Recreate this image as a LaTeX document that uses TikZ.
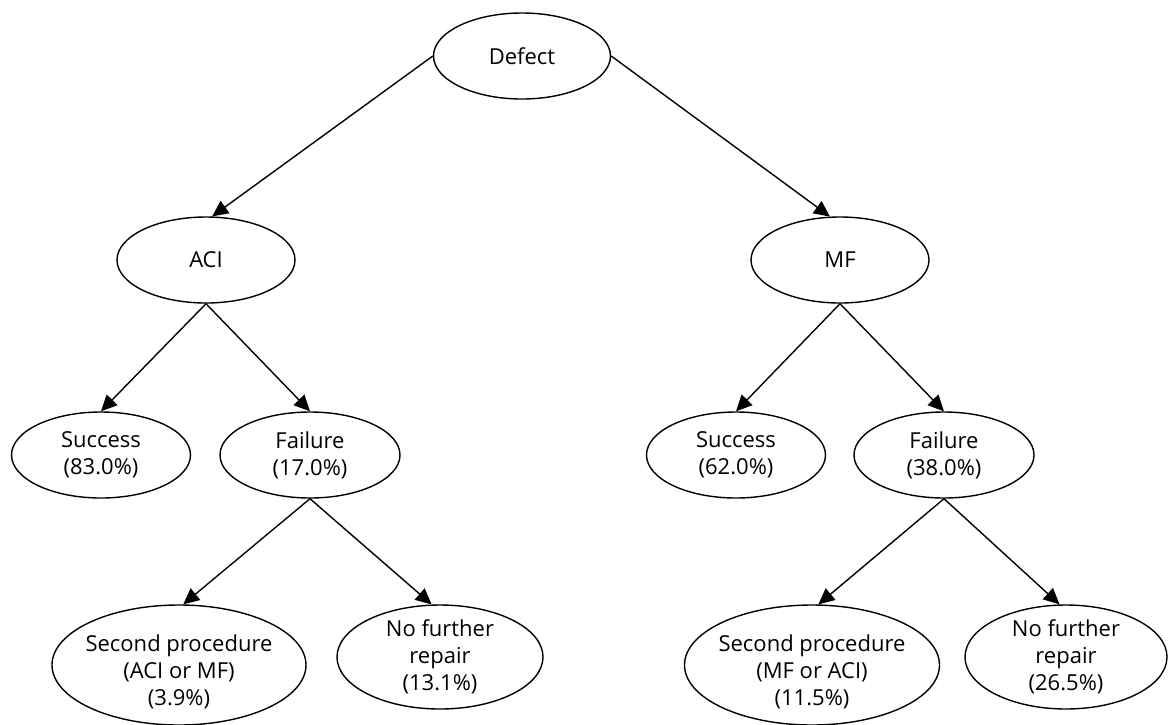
\documentclass[tikz,border=0pt]{standalone}
\usepackage{fontspec}
\setmainfont{Open Sans}
\usetikzlibrary{shapes.geometric,arrows.meta}
\begin{document}
\begin{tikzpicture}[x=1pt,y=-1pt,
  el/.style={ellipse, draw, line width=1.4pt, inner sep=-60pt, align=center,
             font=\fontsize{22}{27}\selectfont},
  lbl/.style={align=center, font=\fontsize{22}{27}\selectfont},
  arr/.style={line width=1.4pt, -{Triangle[length=16pt,width=15pt]}}]
\useasboundingbox (0,0) rectangle (1171,724);
% level 0
\node[el, minimum width=177pt, minimum height=86pt] (defect) at (522,56) {Defect};
% level 1
\node[el, minimum width=178pt, minimum height=86pt] (aci) at (206,260) {ACI};
\node[el, minimum width=178pt, minimum height=86pt] (mf) at (840,260) {MF};
% level 2
\node[el, minimum width=179pt, minimum height=86pt] (sucL) at (101,455) {Success\\(83.0\%)};
\node[el, minimum width=180pt, minimum height=86pt] (failL) at (310,455) {Failure\\(17.0\%)};
\node[el, minimum width=179pt, minimum height=86pt] (sucR) at (736,455) {Success\\(62.0\%)};
\node[el, minimum width=180pt, minimum height=86pt] (failR) at (944,455) {Failure\\(38.0\%)};
% level 3
\node[el, minimum width=254pt, minimum height=120pt,
      label={[lbl, yshift=-7pt]center:{Second procedure\\(ACI or MF)\\(3.9\%)}}] (secL) at (179,665) {};
\node[el, minimum width=206pt, minimum height=104pt] (noL) at (440,657) {No further\\repair\\(13.1\%)};
\node[el, minimum width=255pt, minimum height=120pt,
      label={[lbl, yshift=-7pt]center:{Second procedure\\(MF or ACI)\\(11.5\%)}}] (secR) at (812,665) {};
\node[el, minimum width=202pt, minimum height=104pt] (noR) at (1066,657) {No further\\repair\\(26.5\%)};
% connectors
\draw[arr] (defect.west) -- (aci.82);
\draw[arr] (defect.east) -- (mf.103);
\draw[arr] (aci.south) -- (sucL.north);
\draw[arr] (aci.south) -- (failL.north);
\draw[arr] (mf.south) -- (sucR.north);
\draw[arr] (mf.south) -- (failR.north);
\draw[arr] (failL.south) -- (secL.86);
\draw[arr] (failL.south) -- (noL.99);
\draw[arr] (failR.south) -- (secR.84);
\draw[arr] (failR.south) -- (noR.97);
\end{tikzpicture}
\end{document}
